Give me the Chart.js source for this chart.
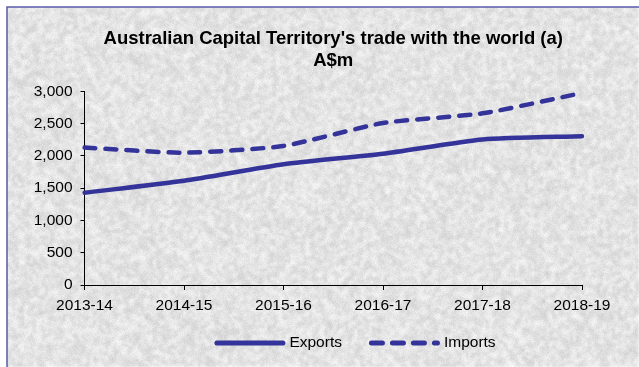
<!DOCTYPE html>
<html>
<head>
<meta charset="utf-8">
<script src="https://cdn.jsdelivr.net/npm/chart.js@4/dist/chart.umd.min.js"></script>
<style>
  html, body { margin: 0; padding: 0; background: #fff; }
  #wrap { width: 639px; height: 367px; position: relative; }
</style>
</head>
<body>
<div id="wrap"><canvas id="tradeChart" width="639" height="367"></canvas></div>
<script>
// 數據
const years = ['2013-14', '2014-15', '2015-16', '2016-17', '2017-18', '2018-19'];
const exportsValues = [1430, 1615, 1870, 2035, 2255, 2305];
const importsValues = [2130, 2050, 2155, 2510, 2660, 2975];
const yTicks = [0, 500, 1000, 1500, 2000, 2500, 3000];

const LINE_COLOR = '#333399';
const FONT = "'Liberation Sans', Arial, sans-serif";
const FRAME_LEFT = 7;
const FRAME_WIDTH = 696;

// 花崗岩紋理背景
function makeTexture(w, h) {
    const c = document.createElement('canvas');
    c.width = w; c.height = h;
    const g = c.getContext('2d');
    let seed = 12345;
    const rnd = () => { seed = (seed * 1103515245 + 12345) & 0x7fffffff; return seed / 0x7fffffff; };

    // 粗顆粒
    const sw = Math.ceil(w / 3), sh = Math.ceil(h / 3);
    const small = document.createElement('canvas');
    small.width = sw; small.height = sh;
    const sg = small.getContext('2d');
    const sd = sg.createImageData(sw, sh);
    for (let i = 0; i < sw * sh; i++) {
        const v = 228 + (rnd() - 0.5) * 36;
        sd.data[i * 4] = v; sd.data[i * 4 + 1] = v; sd.data[i * 4 + 2] = v; sd.data[i * 4 + 3] = 255;
    }
    sg.putImageData(sd, 0, 0);
    g.imageSmoothingEnabled = true;
    g.filter = 'blur(1px)';
    g.drawImage(small, 0, 0, w, h);
    g.filter = 'none';

    // 細顆粒
    const d = g.getImageData(0, 0, w, h);
    for (let i = 0; i < w * h; i++) {
        const n = (rnd() - 0.5) * 14;
        d.data[i * 4] += n; d.data[i * 4 + 1] += n; d.data[i * 4 + 2] += n;
    }
    g.putImageData(d, 0, 0);
    return c;
}

const texture = makeTexture(639, 367);

const backgroundPlugin = {
    id: 'granite',
    beforeDraw(chart) {
        const ctx = chart.ctx;
        ctx.save();
        ctx.fillStyle = '#fff';
        ctx.fillRect(0, 0, chart.width, chart.height);
        ctx.drawImage(texture, 7, 7, chart.width - 7, chart.height - 7, 7, 7, chart.width - 7, chart.height - 7);
        ctx.strokeStyle = '#5a5aaa';
        ctx.lineWidth = 1.5;
        ctx.beginPath();
        ctx.moveTo(FRAME_LEFT, chart.height);
        ctx.lineTo(FRAME_LEFT, FRAME_LEFT);
        ctx.lineTo(chart.width, FRAME_LEFT);
        ctx.stroke();
        ctx.restore();
    }
};

// 底部圖例（線條樣本 + 文字）
const lineLegendPlugin = {
    id: 'lineLegend',
    afterDraw(chart) {
        const ctx = chart.ctx;
        const sampleLen = 66, textGap = 9, itemGap = 27;
        const y = 343;
        ctx.save();
        ctx.font = '15.5px ' + FONT;
        const items = chart.data.datasets.map(ds => ({
            ds,
            w: sampleLen + textGap + ctx.measureText(ds.label).width
        }));
        const total = items.reduce((s, it) => s + it.w, 0) + itemGap * (items.length - 1);
        let x = FRAME_LEFT + FRAME_WIDTH / 2 - total / 2;
        items.forEach(({ ds, w }) => {
            ctx.strokeStyle = ds.borderColor;
            ctx.lineWidth = 5;
            ctx.lineCap = 'round';
            ctx.setLineDash(ds.borderDash || []);
            ctx.beginPath();
            ctx.moveTo(x + 2.5, y);
            ctx.lineTo(x + sampleLen + 2.5, y);
            ctx.stroke();
            ctx.setLineDash([]);
            ctx.fillStyle = '#000';
            ctx.textBaseline = 'middle';
            ctx.textAlign = 'left';
            ctx.fillText(ds.label, x + sampleLen + textGap, y);
            x += w + itemGap;
        });
        ctx.restore();
    }
};

Chart.defaults.font.family = FONT;
Chart.defaults.color = '#000';

const ctx = document.getElementById('tradeChart').getContext('2d');
new Chart(ctx, {
    type: 'line',
    data: {
        labels: years,
        datasets: [
            {
                label: 'Exports',
                data: exportsValues,
                borderColor: LINE_COLOR,
                backgroundColor: LINE_COLOR,
                borderWidth: 4.5,
                borderCapStyle: 'round',
                borderJoinStyle: 'round',
                pointRadius: 0,
                tension: 0.2,
                fill: false
            },
            {
                label: 'Imports',
                data: importsValues,
                borderColor: LINE_COLOR,
                backgroundColor: LINE_COLOR,
                borderWidth: 4.5,
                borderDash: [11, 10],
                borderCapStyle: 'round',
                borderJoinStyle: 'round',
                pointRadius: 0,
                tension: 0.2,
                fill: false
            }
        ]
    },
    options: {
        responsive: false,
        animation: false,
        layout: { padding: { left: 0, right: 57, top: 0, bottom: 52 } },
        plugins: {
            title: {
                display: true,
                fullSize: false,
                text: ["Australian Capital Territory's trade with the world (a)", 'A$m'],
                color: '#000',
                font: { size: 18.5, weight: 'bold' },
                lineHeight: 1.15,
                padding: { top: 28, bottom: 19 }
            },
            legend: { display: false },
            tooltip: { enabled: false }
        },
        scales: {
            x: {
                offset: false,
                grid: { drawOnChartArea: false, drawTicks: true, tickLength: 5, color: '#000' },
                border: { color: '#000', width: 1 },
                ticks: { autoSkip: false, maxRotation: 0, padding: 6.5, font: { size: 15.5 }, color: '#000' },
                afterFit(scale) { scale.height = 30; }
            },
            y: {
                min: 0,
                max: 3000,
                afterBuildTicks(scale) { scale.ticks = yTicks.map(v => ({ value: v })); },
                grid: { drawOnChartArea: false, drawTicks: true, tickLength: 4, color: '#000' },
                border: { color: '#000', width: 1 },
                ticks: {
                    padding: 8,
                    font: { size: 15.5 },
                    color: '#000',
                    callback: v => v.toLocaleString('en-US')
                },
                afterFit(scale) { scale.width = 84.5; }
            }
        }
    },
    plugins: [backgroundPlugin, lineLegendPlugin]
});
</script>
</body>
</html>
